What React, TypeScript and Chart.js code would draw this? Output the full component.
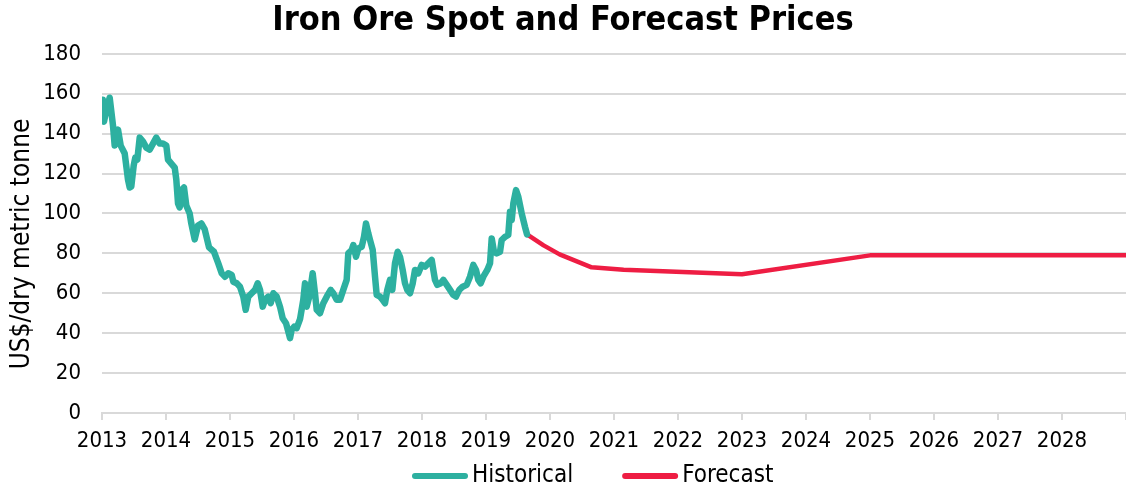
import React, { useEffect, useRef } from "react";
import { Chart, registerables } from "chart.js";

Chart.register(...registerables);

const TITLE = "Iron Ore Spot and Forecast Prices";
const Y_TITLE = "US$/dry metric tonne";
const SERIES_NAMES = ["Historical", "Forecast"];
const SERIES_COLORS = ["#2db0a0", "#ee1d43"];
const X_MIN = 2013;
const X_MAX = 2029;
const Y_MIN = 0;
const Y_MAX = 180;
const Y_STEP = 20;

const histYears = [
  2013.0, 2013.013, 2013.031, 2013.07, 2013.12, 2013.172, 2013.198, 2013.25, 2013.292, 2013.355,
  2013.406, 2013.433, 2013.458, 2013.495, 2013.52, 2013.552, 2013.589, 2013.641, 2013.692, 2013.745,
  2013.797, 2013.848, 2013.902, 2013.953, 2014.005, 2014.031, 2014.083, 2014.136, 2014.161, 2014.188,
  2014.214, 2014.25, 2014.281, 2014.317, 2014.37, 2014.395, 2014.448, 2014.5, 2014.552, 2014.605,
  2014.672, 2014.75, 2014.817, 2014.87, 2014.922, 2014.973, 2015.027, 2015.052, 2015.105, 2015.156,
  2015.208, 2015.245, 2015.286, 2015.339, 2015.391, 2015.433, 2015.469, 2015.511, 2015.547, 2015.598,
  2015.636, 2015.677, 2015.73, 2015.781, 2015.823, 2015.875, 2015.911, 2015.938, 2015.964, 2016.005,
  2016.042, 2016.094, 2016.145, 2016.172, 2016.198, 2016.239, 2016.292, 2016.328, 2016.355, 2016.406,
  2016.458, 2016.511, 2016.573, 2016.614, 2016.667, 2016.719, 2016.77, 2016.823, 2016.848, 2016.902,
  2016.927, 2016.969, 2017.005, 2017.058, 2017.094, 2017.125, 2017.161, 2017.188, 2017.23, 2017.266,
  2017.292, 2017.344, 2017.386, 2017.422, 2017.458, 2017.5, 2017.536, 2017.578, 2017.62, 2017.656,
  2017.698, 2017.734, 2017.77, 2017.813, 2017.855, 2017.891, 2017.942, 2017.995, 2018.047, 2018.098,
  2018.152, 2018.177, 2018.203, 2018.239, 2018.292, 2018.333, 2018.386, 2018.438, 2018.489, 2018.531,
  2018.583, 2018.636, 2018.698, 2018.75, 2018.802, 2018.844, 2018.88, 2018.917, 2018.958, 2019.02,
  2019.063, 2019.089, 2019.125, 2019.167, 2019.219, 2019.245, 2019.297, 2019.348, 2019.375, 2019.402,
  2019.427, 2019.469, 2019.505, 2019.558, 2019.609, 2019.641,
];

const histPrices = [
  147, 157, 146, 152, 158, 144, 134, 142, 134, 130,
  117, 113, 113.5, 124, 128, 127, 138, 136, 133, 132,
  135, 138, 135, 135, 134, 127, 125, 123, 117, 105,
  103, 112, 113, 104, 100, 95, 87, 94, 95, 92,
  83, 80.8, 75, 70, 68.3, 70, 69.2, 65.8, 65, 63.3,
  58.3, 51.7, 58.3, 60, 61.7, 65, 61.7, 53.3, 56.7, 58.3,
  55, 60, 58.3, 53.3, 47.5, 45, 40.8, 37.5, 41.7, 43.3,
  42.5, 47, 56.7, 65, 53.3, 58.3, 70, 60, 51.7, 50,
  55, 58.3, 61.7, 60, 56.7, 56.7, 61.7, 66.7, 80, 81.7,
  84.2, 78.3, 82.5, 83.3, 88.3, 95, 90, 86.7, 81.7, 68.3,
  59.2, 58.3, 56.7, 55, 61.7, 66.7, 61.7, 75, 80.8, 78.3,
  71.7, 65, 61.7, 60, 65, 71.7, 70, 74.2, 73.3, 75,
  76.7, 71.7, 66.7, 64.2, 65, 66.7, 64.2, 61.7, 59.2, 58.3,
  61.7, 63.3, 64.2, 68.3, 74.2, 71.7, 66.7, 65, 68.3, 71.7,
  75, 87.5, 80.8, 80, 80.8, 86.7, 88.3, 89.2, 100.8, 96.7,
  105, 111.7, 108.3, 100, 93.3, 89.5,
];

const fcYears = [2019.641, 2019.9, 2020.15, 2020.65, 2021.15, 2023.0, 2025.0, 2029.0];
const fcPrices = [89.5, 84, 79.5, 73, 71.8, 69.5, 79, 79];

const FONT = "'DejaVu Sans Condensed', 'DejaVu Sans', sans-serif";

const toPoints = (xs: number[], ys: number[]) => xs.map((x, i) => ({ x, y: ys[i] }));

const overlayPlugin = {
  id: "overlay",
  afterDraw(chart: any) {
    const ctx = chart.ctx as CanvasRenderingContext2D;
    ctx.save();
    ctx.font = `26px ${FONT}`;
    ctx.fillStyle = "#000";
    ctx.textAlign = "center";
    ctx.textBaseline = "middle";
    ctx.translate(22, 244);
    ctx.rotate(-Math.PI / 2);
    ctx.fillText(Y_TITLE, 0, 0);
    ctx.restore();

    ctx.save();
    ctx.font = `24px ${FONT}`;
    ctx.textBaseline = "middle";
    ctx.textAlign = "left";
    let x = 415;
    const y = 476;
    chart.data.datasets.forEach((ds: any) => {
      ctx.strokeStyle = ds.borderColor;
      ctx.lineWidth = 6;
      ctx.lineCap = "round";
      ctx.beginPath();
      ctx.moveTo(x, y);
      ctx.lineTo(x + 50, y);
      ctx.stroke();
      ctx.fillStyle = "#000";
      ctx.fillText(ds.label, x + 57, y);
      x += 57 + ctx.measureText(ds.label).width + 52;
    });
    ctx.restore();
  },
};

export default function App() {
  const ref = useRef<HTMLCanvasElement | null>(null);
  useEffect(() => {
    if (!ref.current) return;
    const chart = new Chart(ref.current, {
      type: "line",
      data: {
        datasets: [
          {
            label: SERIES_NAMES[0],
            data: toPoints(histYears, histPrices),
            borderColor: SERIES_COLORS[0],
            backgroundColor: SERIES_COLORS[0],
            borderWidth: 6.5,
            pointRadius: 0,
            tension: 0,
            borderJoinStyle: "round",
            borderCapStyle: "round",
          },
          {
            label: SERIES_NAMES[1],
            data: toPoints(fcYears, fcPrices),
            borderColor: SERIES_COLORS[1],
            backgroundColor: SERIES_COLORS[1],
            borderWidth: 4.5,
            pointRadius: 0,
            tension: 0,
            borderJoinStyle: "round",
            borderCapStyle: "round",
          },
        ],
      },
      options: {
        animation: false,
        responsive: true,
        maintainAspectRatio: false,
        layout: { padding: { left: 0, right: 0, top: 0, bottom: 40 } },
        plugins: {
          legend: { display: false },
          tooltip: { enabled: false },
          title: {
            display: true,
            text: TITLE,
            color: "#000",
            font: { family: FONT, size: 34, weight: "bold" },
            padding: { top: 1, bottom: 12 },
          },
        },
        scales: {
          x: {
            type: "linear",
            min: X_MIN,
            max: X_MAX,
            afterFit: (s: any) => {
              s.height = 39;
              s.paddingRight = 0;
            },
            grid: {
              drawOnChartArea: false,
              drawTicks: true,
              tickLength: 7,
              color: "#d9d9d9",
              lineWidth: 2,
            },
            border: { display: true, color: "#d9d9d9", width: 2 },
            ticks: {
              stepSize: 1,
              autoSkip: false,
              maxRotation: 0,
              padding: 8,
              color: "#000",
              font: { family: FONT, size: 22 },
              callback: (v: any) => (v >= X_MAX ? "" : String(v)),
            },
          },
          y: {
            min: Y_MIN,
            max: Y_MAX,
            afterFit: (s: any) => {
              s.width = 102;
            },
            grid: { color: "#d9d9d9", lineWidth: 2, drawTicks: false },
            border: { display: false },
            ticks: {
              stepSize: Y_STEP,
              padding: 21,
              color: "#000",
              font: { family: FONT, size: 22 },
            },
          },
        },
      },
      plugins: [overlayPlugin],
    });
    return () => chart.destroy();
  }, []);
  return (
    <div style={{ position: "absolute", left: 0, top: 0, width: 1126, height: 492 }}>
      <canvas ref={ref} />
    </div>
  );
}
